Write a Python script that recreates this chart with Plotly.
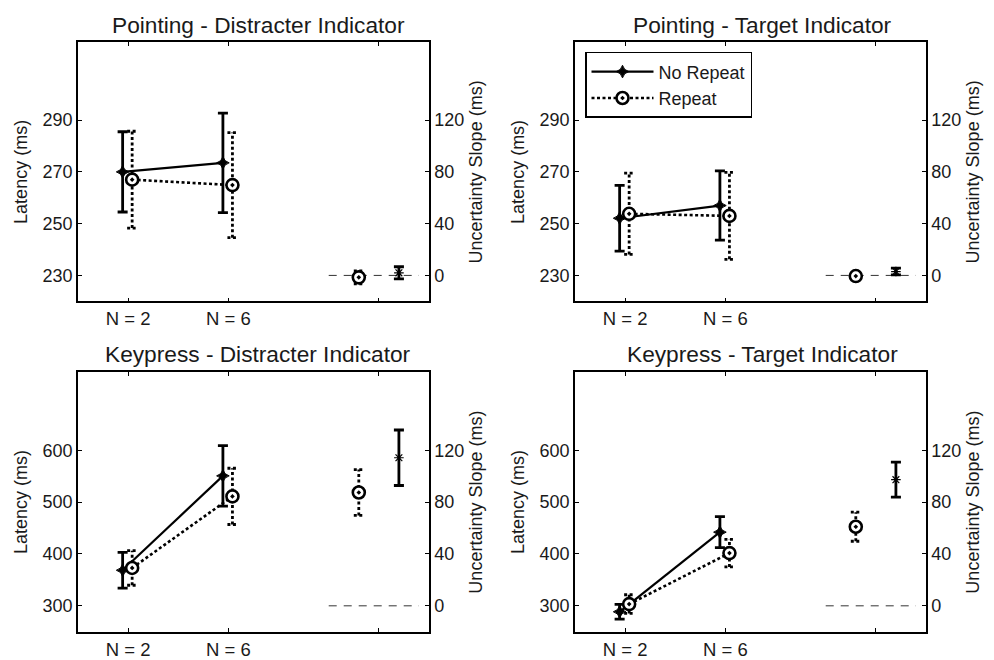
import plotly.graph_objects as go

# ---------------- data ----------------
panel_titles = ["Pointing - Distracter Indicator", "Pointing - Target Indicator",
                "Keypress - Distracter Indicator", "Keypress - Target Indicator"]
set_sizes = [1, 2]                 # category positions for N = 2, N = 6
x_tick_vals = [1, 2, 3.5]
x_tick_text = ["N = 2", "N = 6", ""]

# No Repeat latency (ms): mean and half error bar, per panel [N=2, N=6]
norep_mean = [[270.0, 273.5], [252.1, 257.0], [368.6, 550.6], [288.5, 442.0]]
norep_err = [[15.5, 19.2], [12.7, 13.4], [34.6, 58.3], [14.1, 29.8]]
# Repeat latency (ms)
rep_mean = [[267.0, 264.9], [253.8, 253.0], [373.0, 511.0], [303.3, 401.6]]
rep_err = [[18.7, 20.3], [15.7, 16.8], [33.3, 54.2], [18.0, 26.6]]
# Uncertainty slopes (ms), right axis
slope_rep = [-1.5, -0.5, 87.4, 61.0]
slope_rep_err = [5.0, 2.0, 17.7, 11.2]
slope_norep = [2.0, 3.0, 114.2, 97.3]
slope_norep_err = [4.7, 2.6, 21.4, 13.5]
slope_x = {"rep": 3.3, "norep": 3.7}
zero_line_x = [3.0, 3.9]

left_ranges = [[220, 320], [220, 320], [250, 750], [250, 750]]
left_ticks = [[230, 250, 270, 290], [230, 250, 270, 290],
              [300, 400, 500, 600], [300, 400, 500, 600]]
right_range = [-20, 180]
right_ticks = [0, 40, 80, 120]

# ---------------- layout geometry ----------------
W, H = 994, 660
xdom = {0: [78 / W, 429 / W], 1: [575 / W, 926 / W]}
ydom = {0: [1 - 305 / H, 1 - 43 / H], 1: [1 - 639.5 / H, 1 - 377 / H]}
title_cx = {0: 258 / W, 1: 762 / W}
title_cy = {0: 1 - 25 / H, 1: 1 - 358 / H}

FONT = "Liberation Sans, Arial, sans-serif"
TXT = "#1a1a1a"
OFF_NR, OFF_RP = -0.055, 0.04
CAP = 0.05


def errbars(xs, ys, es):
    X, Y = [], []
    for x, y, e in zip(xs, ys, es):
        X += [x, x, None, x - CAP, x + CAP, None, x - CAP, x + CAP, None]
        Y += [y - e, y + e, None, y - e, y - e, None, y + e, y + e, None]
    return X, Y


fig = go.Figure()
layout = dict(
    width=W, height=H, margin=dict(l=0, r=0, t=0, b=0),
    paper_bgcolor="white", plot_bgcolor="white",
    font=dict(family=FONT, size=18, color=TXT),
    showlegend=True,
    legend=dict(x=585 / W, y=1 - 52.5 / H, xanchor="left", yanchor="top",
                bgcolor="white", bordercolor="black", borderwidth=1.5,
                font=dict(size=18, family=FONT, color=TXT), itemwidth=62,
                tracegroupgap=0),
    annotations=[],
)

for k in range(4):
    r, c = divmod(k, 2)
    xa = "x" if k == 0 else f"x{k + 1}"
    yl_n, yr_n = 2 * k + 1, 2 * k + 2
    yl = "y" if yl_n == 1 else f"y{yl_n}"
    yr = f"y{yr_n}"

    xs_nr = [s + OFF_NR for s in set_sizes]
    xs_rp = [s + OFF_RP for s in set_sizes]

    # zero reference for slopes
    fig.add_trace(go.Scatter(x=zero_line_x, y=[0, 0], xaxis=xa, yaxis=yr, mode="lines",
                             line=dict(color="#333", width=1, dash="8px,7px"),
                             showlegend=False, hoverinfo="skip"))

    # error bars - latency
    ex, ey = errbars(xs_nr, norep_mean[k], norep_err[k])
    fig.add_trace(go.Scatter(x=ex, y=ey, xaxis=xa, yaxis=yl, mode="lines",
                             line=dict(color="black", width=2.8), showlegend=False,
                             hoverinfo="skip"))
    ex, ey = errbars(xs_rp, rep_mean[k], rep_err[k])
    fig.add_trace(go.Scatter(x=ex, y=ey, xaxis=xa, yaxis=yl, mode="lines",
                             line=dict(color="black", width=2.8, dash="3px,2.5px"),
                             showlegend=False, hoverinfo="skip"))
    # error bars - slopes
    ex, ey = errbars([slope_x["rep"]], [slope_rep[k]], [slope_rep_err[k]])
    fig.add_trace(go.Scatter(x=ex, y=ey, xaxis=xa, yaxis=yr, mode="lines",
                             line=dict(color="black", width=2.8, dash="3px,2.5px"),
                             showlegend=False, hoverinfo="skip"))
    ex, ey = errbars([slope_x["norep"]], [slope_norep[k]], [slope_norep_err[k]])
    fig.add_trace(go.Scatter(x=ex, y=ey, xaxis=xa, yaxis=yr, mode="lines",
                             line=dict(color="black", width=2.8),
                             showlegend=False, hoverinfo="skip"))

    # mean lines
    fig.add_trace(go.Scatter(x=xs_nr, y=norep_mean[k], xaxis=xa, yaxis=yl,
                             mode="lines+markers", name="No Repeat",
                             line=dict(color="black", width=2.2),
                             marker=dict(symbol="star-diamond", size=9, color="black",
                                         line=dict(color="black", width=1)),
                             showlegend=(k == 0), legendgroup="nr"))
    fig.add_trace(go.Scatter(x=xs_rp, y=rep_mean[k], xaxis=xa, yaxis=yl,
                             mode="lines+markers", name="Repeat",
                             line=dict(color="black", width=2.6, dash="3px,2.5px"),
                             marker=dict(symbol="circle-dot", size=12, color="white",
                                         line=dict(color="black", width=2.6)),
                             showlegend=(k == 0), legendgroup="rp"))
    # slope points
    fig.add_trace(go.Scatter(x=[slope_x["rep"]], y=[slope_rep[k]], xaxis=xa, yaxis=yr,
                             mode="markers",
                             marker=dict(symbol="circle-dot", size=12, color="white",
                                         line=dict(color="black", width=2.6)),
                             showlegend=False))
    fig.add_trace(go.Scatter(x=[slope_x["norep"]], y=[slope_norep[k]], xaxis=xa, yaxis=yr,
                             mode="markers",
                             marker=dict(symbol="asterisk-open", size=8, color="black",
                                         line=dict(color="black", width=1.2)),
                             showlegend=False))

    xkey = "xaxis" if k == 0 else f"xaxis{k + 1}"
    ylkey = "yaxis" if yl_n == 1 else f"yaxis{yl_n}"
    yrkey = f"yaxis{yr_n}"
    layout[xkey] = dict(domain=xdom[c], anchor=yl, range=[0.5, 4],
                        tickmode="array", tickvals=x_tick_vals, ticktext=x_tick_text,
                        ticks="inside", ticklen=4, tickwidth=1.2, tickcolor="black",
                        showline=True, linecolor="black", linewidth=1.5, mirror="ticks",
                        showgrid=False, zeroline=False,
                        tickfont=dict(size=18.5, family=FONT, color=TXT))
    layout[ylkey] = dict(domain=ydom[r], anchor=xa, range=left_ranges[k],
                         tickmode="array", tickvals=left_ticks[k],
                         ticks="inside", ticklen=4, tickwidth=1.2, tickcolor="black",
                         showline=True, linecolor="black", linewidth=1.5,
                         showgrid=False, zeroline=False,
                         tickfont=dict(size=18, family=FONT, color=TXT),
                         title=dict(text="Latency (ms)", standoff=10,
                                    font=dict(size=18, family=FONT, color=TXT)))
    layout[yrkey] = dict(overlaying=yl, side="right", anchor=xa, range=right_range,
                         tickmode="array", tickvals=right_ticks,
                         ticks="inside", ticklen=4, tickwidth=1.2, tickcolor="black",
                         showline=True, linecolor="black", linewidth=1.5,
                         showgrid=False, zeroline=False,
                         tickfont=dict(size=18, family=FONT, color=TXT),
                         title=dict(text="Uncertainty Slope (ms)", standoff=6,
                                    font=dict(size=18, family=FONT, color=TXT)))
    layout["annotations"].append(dict(
        text=panel_titles[k], x=title_cx[c], y=title_cy[r], xref="paper", yref="paper",
        xanchor="center", yanchor="middle", showarrow=False,
        font=dict(size=22.7, family=FONT, color=TXT)))

fig.update_layout(**layout)
fig.write_html("out.html")
